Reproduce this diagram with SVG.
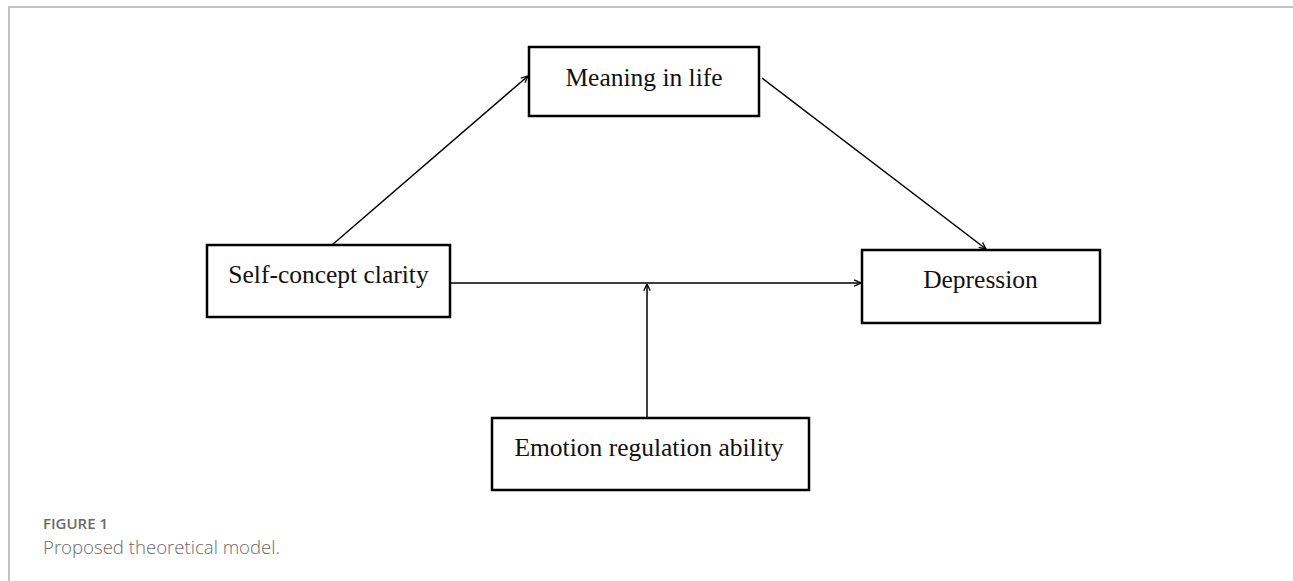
<svg xmlns="http://www.w3.org/2000/svg" width="1293" height="581" viewBox="0 0 1293 581">
  <style>
    .box { fill: #ffffff; stroke: #000000; stroke-width: 2.5; }
    .lbl { font-family: "Liberation Serif", "Times New Roman", serif; font-size: 25.5px; fill: #111111; text-anchor: middle; }
    .edge { stroke: #000000; stroke-width: 1.5; fill: none; marker-end: url(#arr); }
    .frame { stroke: #b0b0b0; stroke-width: 1.5; fill: none; }
    .cap1 { font-family: "Open Sans", "Liberation Sans", sans-serif; font-size: 15px; font-weight: 600; fill: #6a6a6a; }
    .cap2 { font-family: "Open Sans", "Liberation Sans", sans-serif; font-size: 18.6px; font-weight: 300; fill: #6a6a6a; }
  </style>
  <defs>
    <marker id="arr" viewBox="0 0 10 10" refX="9.5" refY="5" markerWidth="8" markerHeight="8" markerUnits="userSpaceOnUse" orient="auto">
      <path d="M1,1 L9.5,5 L1,9" fill="none" stroke="#000000" stroke-width="1.6"/>
    </marker>
  </defs>
  <rect x="0" y="0" width="1293" height="581" fill="#ffffff"/>
  <path class="frame" d="M9,581 L9,7 L1293,7"/>

  <g id="connectors">
    <line class="edge" x1="332" y1="245" x2="528" y2="76"/>
    <line class="edge" x1="762" y1="78" x2="986" y2="249"/>
    <line class="edge" x1="451" y1="283" x2="861" y2="283"/>
    <line class="edge" x1="647" y1="418" x2="647" y2="284"/>
  </g>

  <g id="meaning">
    <rect class="box" x="529" y="47" width="230" height="69"/>
    <text class="lbl" x="644" y="86">Meaning in life</text>
  </g>
  <g id="selfconcept">
    <rect class="box" x="207" y="245" width="243" height="72"/>
    <text class="lbl" x="328.5" y="283">Self-concept clarity</text>
  </g>
  <g id="depression">
    <rect class="box" x="862" y="250" width="238" height="73"/>
    <text class="lbl" x="980.5" y="288">Depression</text>
  </g>
  <g id="emotion">
    <rect class="box" x="492" y="418" width="317" height="72"/>
    <text class="lbl" x="649" y="456">Emotion regulation ability</text>
  </g>

  <text class="cap1" x="43" y="529">FIGURE 1</text>
  <text class="cap2" x="43" y="554">Proposed theoretical model.</text>
</svg>
